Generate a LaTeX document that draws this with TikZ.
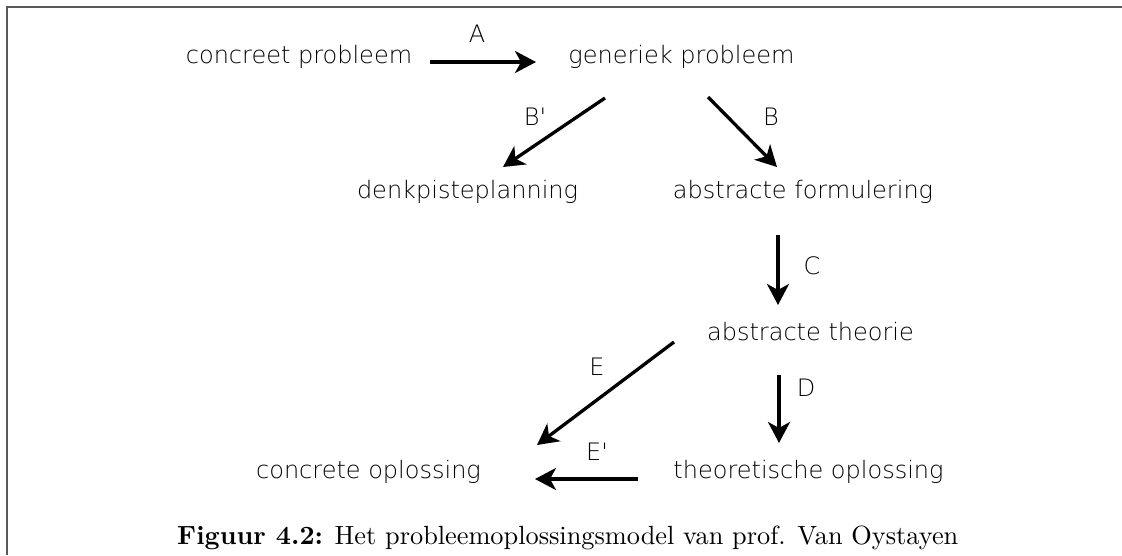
\documentclass[tikz,border=0pt]{standalone}
\usepackage{fontspec}
\usepackage{graphicx}
\usetikzlibrary{arrows.meta,calc}
\newfontfamily\diagfont{DejaVu Sans ExtraLight}
\definecolor{framegray}{HTML}{5A5A5A}
\tikzset{
  lbl/.style={font=\diagfont\fontsize{24}{28}\selectfont, inner sep=0pt, anchor=base},
  arlbl/.style={font=\diagfont\fontsize{24}{28}\selectfont, inner sep=0pt, anchor=center},
  arr/.style={line width=3.3pt, -{Stealth[length=21pt,width=22pt,inset=6pt]}},
  framestyle/.style={draw=framegray, line width=1.6pt}
}
\begin{document}
\begin{tikzpicture}[x=1pt,y=-1pt]
\useasboundingbox (0,0) rectangle (1122,555);
% frame
\draw[framestyle] (1122,7) -- (6.8,7) -- (6.8,555);
% nodes
\node[lbl] (cp) at (299,63) {concreet probleem};
\node[lbl] (gp) at (681.5,63) {generiek probleem};
\node[lbl] (dp) at (467.5,198) {denkpisteplanning};
\node[lbl] (af) at (803,198) {abstracte formulering};
\node[lbl] (at) at (810.5,340) {abstracte theorie};
\node[lbl] (to) at (808.5,478) {theoretische oplossing};
\node[lbl] (co) at (368.5,478) {concrete oplossing};
% connectors
\draw[arr] ($(cp.base)+(131,-1)$) -- ($(gp.base)+(-145.5,-1)$);
\draw[arr] ($(gp.base)+(-76.5,35)$) -- ($(dp.base)+(35.5,-31)$);
\draw[arr] ($(gp.base)+(26.5,34)$) -- ($(af.base)+(-26,-31)$);
\draw[arr] ($(af.base)+(-25,37)$) -- ($(at.base)+(-32.5,-35)$);
\draw[arr] ($(at.base)+(-31.5,35)$) -- ($(to.base)+(-29.5,-35)$);
\draw[arr] ($(at.base)+(-136.5,2)$) -- ($(co.base)+(168.5,-33)$);
\draw[arr] ($(to.base)+(-170.5,1)$) -- ($(co.base)+(166.5,1)$);
% connector labels
\node[arlbl] (lA) at (477,34) {A};
\node[arlbl] (lBp) at (535,117) {B'};
\node[arlbl] (lB) at (771,117) {B};
\node[arlbl] (lC) at (812,266) {C};
\node[arlbl] (lD) at (806,388) {D};
\node[arlbl] (lE) at (597,367) {E};
\node[arlbl] (lEp) at (597,452) {E'};
% caption
\node[inner sep=0pt, anchor=base west] (cap) at (177,544)
  {\resizebox{781pt}{!}{\textbf{Figuur 4.2:} Het probleemoplossingsmodel van prof. Van Oystayen}};
\end{tikzpicture}
\end{document}
